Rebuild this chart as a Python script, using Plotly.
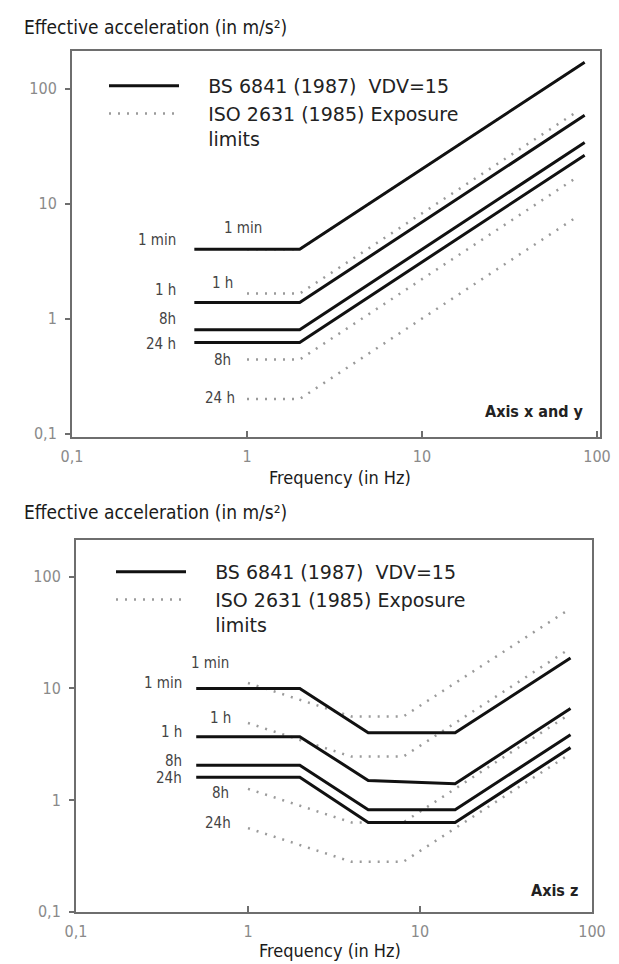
import plotly.graph_objects as go

W, H = 619, 964

# ---------------- data: top chart (Axis x and y) ----------------
bs_xy_freq = [0.5, 2, 85]
bs_xy_1min = [4.0, 4.0, 170]
bs_xy_1h = [1.38, 1.38, 58.7]
bs_xy_8h = [0.80, 0.80, 34]
bs_xy_24h = [0.62, 0.62, 26.4]

iso_xy_freq = [1, 2, 78]
iso_xy_1min = [4.0, 4.0, 156]
iso_xy_1h = [1.65, 1.65, 64]
iso_xy_8h = [0.44, 0.44, 17.2]
iso_xy_24h = [0.2, 0.2, 7.8]

# ---------------- data: bottom chart (Axis z) ----------------
bs_z_freq = [0.5, 2, 5, 16, 75]
bs_z_1min = [10, 10, 4.0, 4.0, 18.75]
bs_z_1h = [3.7, 3.7, 1.5, 1.4, 6.6]
bs_z_8h = [2.05, 2.05, 0.82, 0.82, 3.84]
bs_z_24h = [1.6, 1.6, 0.63, 0.63, 2.95]

iso_z_freq = [1, 4, 8, 72]
iso_z_1min = [11.2, 5.6, 5.6, 50]
iso_z_1h = [4.9, 2.45, 2.45, 22]
iso_z_8h = [1.26, 0.63, 0.63, 5.7]
iso_z_24h = [0.56, 0.28, 0.28, 2.5]

tick_vals = [0.1, 1, 10, 100]
tick_text = ["0,1", "1", "10", "100"]

PAD = "\u00a0" * 4
bs_name = PAD + "BS 6841 (1987) \u00a0VDV=15"
iso_name = PAD + "ISO 2631 (1985) Exposure<br>" + PAD + "limits"

# ---------------- styles ----------------
NARROW = "DejaVu Sans Condensed"
BS_LINE = dict(color="#111111", width=3)
ISO_LINE = dict(color="#9a9a9a", width=2.5, dash="2px,7px")


def fx(px):
    return px / W


def fy(py):
    return 1 - py / H


fig = go.Figure()

top_iso = [iso_xy_1min, iso_xy_1h, iso_xy_8h, iso_xy_24h]
top_bs = [bs_xy_1min, bs_xy_1h, bs_xy_8h, bs_xy_24h]
bot_iso = [iso_z_1min, iso_z_1h, iso_z_8h, iso_z_24h]
bot_bs = [bs_z_1min, bs_z_1h, bs_z_8h, bs_z_24h]

# top subplot
for i, ys in enumerate(top_iso):
    fig.add_trace(go.Scatter(x=iso_xy_freq, y=ys, mode="lines", line=ISO_LINE,
                             name=iso_name, legendgroup="iso1", showlegend=(i == 1),
                             xaxis="x", yaxis="y", legend="legend", hoverinfo="skip",
                             legendrank=2))
for i, ys in enumerate(top_bs):
    fig.add_trace(go.Scatter(x=bs_xy_freq, y=ys, mode="lines", line=BS_LINE,
                             name=bs_name, legendgroup="bs1", showlegend=(i == 0),
                             xaxis="x", yaxis="y", legend="legend", hoverinfo="skip",
                             legendrank=1))

# bottom subplot
for i, ys in enumerate(bot_iso):
    fig.add_trace(go.Scatter(x=iso_z_freq, y=ys, mode="lines", line=ISO_LINE,
                             name=iso_name, legendgroup="iso2", showlegend=(i == 0),
                             xaxis="x2", yaxis="y2", legend="legend2", hoverinfo="skip",
                             legendrank=2))
for i, ys in enumerate(bot_bs):
    fig.add_trace(go.Scatter(x=bs_z_freq, y=ys, mode="lines", line=BS_LINE,
                             name=bs_name, legendgroup="bs2", showlegend=(i == 0),
                             xaxis="x2", yaxis="y2", legend="legend2", hoverinfo="skip",
                             legendrank=1))

axis_common = dict(
    type="log", showgrid=False, zeroline=False, automargin=False,
    showline=True, mirror=True, linecolor="#6e6e6e", linewidth=2,
    tickvals=tick_vals, ticktext=tick_text,
    tickfont=dict(family=NARROW, size=16, color="#8a8a8a"),
    tickcolor="#6e6e6e", tickwidth=1.5,
)

legend_common = dict(
    xanchor="left", yanchor="top", valign="top",
    bgcolor="rgba(0,0,0,0)", borderwidth=0, itemwidth=70,
    font=dict(family="DejaVu Sans", size=19, color="#222222"),
    tracegroupgap=0, itemclick=False, itemdoubleclick=False,
)

fig.update_layout(
    width=W, height=H, autosize=False,
    margin=dict(l=0, r=0, t=0, b=0, autoexpand=False),
    paper_bgcolor="white", plot_bgcolor="white",
    xaxis=dict(axis_common, domain=[fx(72), fx(600)], range=[-1.0, 2.017],
               anchor="y", ticks="inside", ticklen=6, ticklabelstandoff=4),
    yaxis=dict(axis_common, domain=[fy(437), fy(50.7)], range=[-1.03, 2.33],
               anchor="x", ticks="outside", ticklen=5, ticklabelstandoff=5),
    xaxis2=dict(axis_common, domain=[fx(76), fx(592)], range=[-1.0, 2.0],
                anchor="y2", ticks="inside", ticklen=6, ticklabelstandoff=4),
    yaxis2=dict(axis_common, domain=[fy(912), fy(540)], range=[-1.003, 2.33],
                anchor="x2", ticks="outside", ticklen=5, ticklabelstandoff=5),
    legend=dict(legend_common, x=fx(104), y=fy(67)),
    legend2=dict(legend_common, x=fx(111), y=fy(553)),
    showlegend=True,
)

ann = []


def label(text, px, py, anchor="center", size=15, color="#444444", bold=False):
    t = "<b>%s</b>" % text if bold else text
    ann.append(dict(text=t, x=fx(px), y=fy(py), xref="paper", yref="paper",
                    xanchor=anchor, yanchor="middle", showarrow=False,
                    font=dict(family=NARROW, size=size, color=color)))


# axis titles
for ty in (27, 512):
    label("Effective acceleration (in m/s²)", 22, ty, anchor="left", size=19, color="#1a1a1a")
label("Frequency (in Hz)", 340, 477, size=18, color="#1a1a1a")
label("Frequency (in Hz)", 330, 950, size=18, color="#1a1a1a")

# top curve labels
label("1 min", 178, 240, anchor="right")
label("1 h", 178, 290, anchor="right")
label("8h", 178, 319, anchor="right")
label("24 h", 178, 344, anchor="right")
label("1 min", 243, 228)
label("1 h", 223, 283)
label("8h", 223, 360)
label("24 h", 220, 398)
label("Axis x and y", 585, 411, anchor="right", size=16, color="#222222", bold=True)

# bottom curve labels
label("1 min", 184, 683, anchor="right")
label("1 h", 184, 732, anchor="right")
label("8h", 184, 761, anchor="right")
label("24h", 184, 778, anchor="right")
label("1 min", 210, 663)
label("1 h", 220, 718)
label("8h", 220, 793)
label("24h", 218, 823)
label("Axis z", 580, 890, anchor="right", size=16, color="#222222", bold=True)

fig.update_layout(annotations=ann)

fig.write_html("out.html", config={"displayModeBar": False},
               post_script="document.body.style.margin='0px';")
